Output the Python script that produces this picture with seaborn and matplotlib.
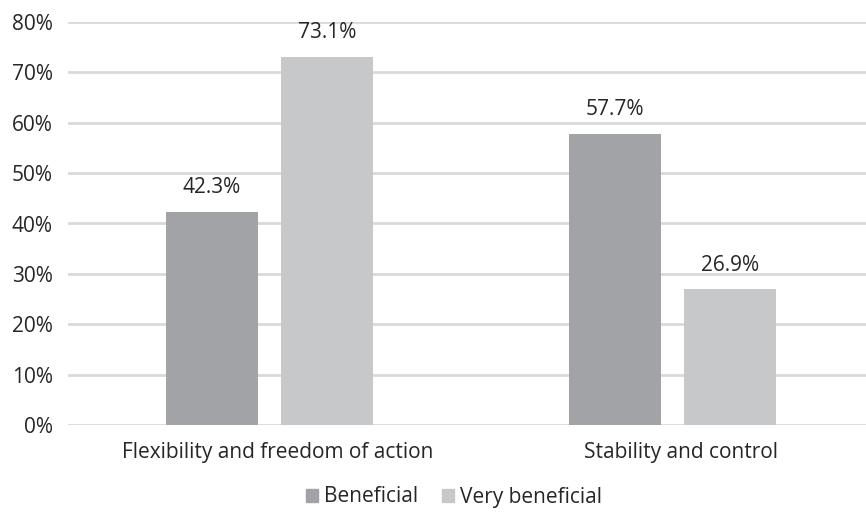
import seaborn as sns
import matplotlib.pyplot as plt
import matplotlib.transforms as mtransforms
import pandas as pd
from matplotlib.ticker import PercentFormatter

# Data
categories = ['Flexibility and freedom of action', 'Stability and control']
series = ['Beneficial', 'Very beneficial']
beneficial = [42.3, 57.7]
very_beneficial = [73.1, 26.9]
colors = ['#a2a3a7', '#c7c8ca']

df = pd.DataFrame({
    'category': categories * 2,
    'series': [series[0]] * 2 + [series[1]] * 2,
    'value': beneficial + very_beneficial,
})

sns.set_style('white')
plt.rcParams['font.family'] = ['Open Sans', 'DejaVu Sans']

fig = plt.figure(figsize=(8.66, 5.13), dpi=100)
ax = fig.add_axes([68 / 866, 1 - 425 / 513, 806 / 866, (425 - 22) / 513])

sns.barplot(data=df, x='category', y='value', hue='series', hue_order=series,
            palette=colors, width=0.57, gap=0.2, ax=ax, legend=False,
            saturation=1, edgecolor='none')

fs = 15
for cont in ax.containers:
    ax.bar_label(cont, labels=[f'{v:.1f}%' for v in cont.datavalues],
                 padding=10, fontsize=fs, color='#262626')

ax.set_ylim(0, 80)
ax.set_xlim(-0.5, 1.5)
ax.set_yticks(range(0, 81, 10))
ax.yaxis.set_major_formatter(PercentFormatter(decimals=0))
ax.grid(axis='y', color='#d9d9d9', linewidth=2)
ax.set_axisbelow(True)
for s in ax.spines.values():
    s.set_visible(False)
ax.tick_params(axis='both', length=0, labelsize=fs, labelcolor='#262626')
ax.tick_params(axis='x', pad=12)
ax.tick_params(axis='y', pad=11)
ax.set_xlabel('')
ax.set_ylabel('')

# category labels sit a little right of the bar groups
shift = mtransforms.ScaledTranslation(8 / 100, 0, fig.dpi_scale_trans)
for lab in ax.get_xticklabels():
    lab.set_transform(lab.get_transform() + shift)

handles = [plt.Rectangle((0, 0), 1, 1, color=c) for c in colors]
fig.legend(handles, series, loc='center', bbox_to_anchor=(454 / 866, 1 - 497 / 513),
           ncol=2, frameon=False, fontsize=fs, handlelength=0.6, handleheight=0.6,
           handletextpad=0.3, columnspacing=1.1, labelcolor='#262626')

fig.savefig('out.png', dpi=100)
